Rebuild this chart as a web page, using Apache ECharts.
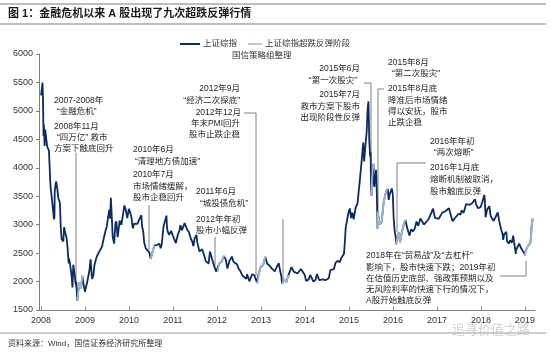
<!DOCTYPE html>
<html>
<head>
<meta charset="utf-8">
<script src="https://cdn.jsdelivr.net/npm/echarts@6/dist/echarts.min.js"></script>
<style>
  html, body { margin: 0; padding: 0; background: #fff; }
  #chart { width: 550px; height: 354px; }
</style>
</head>
<body>
<div id="chart"></div>
<script>
// 上证综指（约半月取点）
const dates = [
  '2008-01-02','2008-01-08','2008-01-14','2008-01-18','2008-01-22','2008-01-25','2008-01-31','2008-02-05','2008-02-15','2008-02-22','2008-02-29',
  '2008-03-07','2008-03-14','2008-03-20','2008-03-31','2008-04-09','2008-04-18','2008-04-22','2008-04-24','2008-04-30','2008-05-06','2008-05-16',
  '2008-05-23','2008-05-30','2008-06-06','2008-06-13','2008-06-20','2008-06-30','2008-07-04','2008-07-11','2008-07-18','2008-07-25','2008-07-31',
  '2008-08-08','2008-08-18','2008-08-22','2008-08-29','2008-09-05','2008-09-12','2008-09-18','2008-09-25','2008-10-09','2008-10-16','2008-10-20',
  '2008-10-28','2008-10-31','2008-11-07','2008-11-14','2008-11-21','2008-11-28','2008-12-09','2008-12-17','2008-12-24','2008-12-31',
  '2009-01-09','2009-01-16','2009-01-23','2009-02-06','2009-02-17','2009-02-27','2009-03-03','2009-03-13','2009-03-20','2009-03-31','2009-04-10',
  '2009-04-24','2009-05-08','2009-05-22','2009-06-05','2009-06-19','2009-06-30','2009-07-10','2009-07-22','2009-07-29','2009-08-04','2009-08-12',
  '2009-08-19','2009-08-31','2009-09-11','2009-09-18','2009-09-29','2009-10-16','2009-10-30','2009-11-13','2009-11-24','2009-12-04','2009-12-18','2009-12-31',
  '2010-01-11','2010-01-22','2010-01-29','2010-02-03','2010-02-12','2010-02-26','2010-03-12','2010-03-31','2010-04-14','2010-04-19','2010-04-30',
  '2010-05-07','2010-05-21','2010-05-31','2010-06-04','2010-06-18','2010-06-30','2010-07-02','2010-07-09','2010-07-23','2010-07-30','2010-08-13',
  '2010-08-20','2010-08-31','2010-09-10','2010-09-21','2010-09-30','2010-10-15','2010-10-29','2010-11-08','2010-11-12','2010-11-16','2010-11-30',
  '2010-12-10','2010-12-17','2010-12-31',
  '2011-01-07','2011-01-14','2011-01-25','2011-02-11','2011-02-25','2011-03-04','2011-03-16','2011-03-31','2011-04-08','2011-04-18','2011-04-29',
  '2011-05-13','2011-05-31','2011-06-10','2011-06-20','2011-06-30','2011-07-15','2011-07-22','2011-07-31','2011-08-09','2011-08-19','2011-08-31',
  '2011-09-15','2011-09-30','2011-10-24','2011-11-04','2011-11-15','2011-11-30','2011-12-13','2011-12-27',
  '2012-01-06','2012-01-20','2012-02-10','2012-02-27','2012-03-02','2012-03-14','2012-03-28','2012-04-13','2012-05-04','2012-05-18','2012-05-31',
  '2012-06-15','2012-06-29','2012-07-13','2012-07-31','2012-08-15','2012-08-31','2012-09-07','2012-09-26','2012-10-19','2012-11-05','2012-11-27',
  '2012-12-03','2012-12-14','2012-12-31',
  '2013-01-18','2013-01-31','2013-02-06','2013-02-22','2013-03-05','2013-03-15','2013-03-29','2013-04-12','2013-04-26','2013-05-10','2013-05-29',
  '2013-06-07','2013-06-20','2013-06-25','2013-07-12','2013-07-31','2013-08-14','2013-08-30','2013-09-12','2013-09-30','2013-10-15','2013-10-31',
  '2013-11-15','2013-11-29','2013-12-13','2013-12-31',
  '2014-01-10','2014-01-20','2014-01-31','2014-02-14','2014-02-28','2014-03-12','2014-03-31','2014-04-10','2014-04-30','2014-05-16','2014-05-30',
  '2014-06-20','2014-06-30','2014-07-18','2014-07-31','2014-08-15','2014-08-29','2014-09-12','2014-09-30','2014-10-17','2014-10-31','2014-11-21',
  '2014-11-28','2014-12-05','2014-12-19','2014-12-31',
  '2015-01-09','2015-01-19','2015-01-30','2015-02-09','2015-02-27','2015-03-13','2015-03-31','2015-04-15','2015-04-30','2015-05-07','2015-05-20',
  '2015-05-28','2015-06-05','2015-06-12','2015-06-19','2015-06-26','2015-06-30','2015-07-03','2015-07-08','2015-07-09','2015-07-17','2015-07-24',
  '2015-07-27','2015-07-31','2015-08-14','2015-08-18','2015-08-21','2015-08-26','2015-08-28','2015-09-02','2015-09-15','2015-09-30','2015-10-16',
  '2015-10-30','2015-11-06','2015-11-20','2015-11-27','2015-12-04','2015-12-23','2015-12-31',
  '2016-01-04','2016-01-07','2016-01-15','2016-01-26','2016-01-28','2016-02-05','2016-02-19','2016-02-29','2016-03-15','2016-03-31','2016-04-14',
  '2016-04-29','2016-05-18','2016-05-31','2016-06-17','2016-06-30','2016-07-15','2016-07-29','2016-08-16','2016-08-31','2016-09-14','2016-09-30',
  '2016-10-21','2016-10-31','2016-11-15','2016-11-29','2016-12-15','2016-12-30',
  '2017-01-16','2017-01-31','2017-02-15','2017-02-28','2017-03-15','2017-03-31','2017-04-11','2017-04-28','2017-05-11','2017-05-31','2017-06-15',
  '2017-06-30','2017-07-17','2017-07-24','2017-08-11','2017-08-31','2017-09-15','2017-09-29','2017-10-20','2017-11-13','2017-11-23','2017-12-08',
  '2017-12-18','2017-12-29',
  '2018-01-15','2018-01-29','2018-02-02','2018-02-09','2018-02-22','2018-03-12','2018-03-23','2018-04-02','2018-04-17','2018-05-02','2018-05-21',
  '2018-06-01','2018-06-19','2018-06-29','2018-07-05','2018-07-13','2018-07-31','2018-08-06','2018-08-20','2018-08-31','2018-09-14','2018-09-26',
  '2018-10-11','2018-10-18','2018-10-19','2018-10-31','2018-11-15','2018-11-20','2018-11-30','2018-12-10','2018-12-25','2018-12-28',
  '2019-01-03','2019-01-04','2019-01-18','2019-01-31','2019-02-15','2019-02-22','2019-02-25','2019-03-01','2019-03-07'
];
const closes = [
  5273,5393,5497,5180,4559,4761,4383,4672,4490,4370,4348,
  4300,3962,3668,3472,3500,3094,3147,3584,3693,3761,3626,
  3474,3433,3377,2957,2748,2736,2704,2957,2874,2862,2775,
  2605,2319,2405,2397,2202,2079,1895,2297,2074,1931,1994,
  1664,1728,1747,1988,1930,1871,2100,1985,1898,1820,
  1904,1955,1990,2181,2389,2082,2043,2128,2281,2373,2445,
  2475,2560,2611,2753,2881,2959,3104,3266,3105,3471,3112,
  2786,2667,3020,3060,2779,3070,2995,3187,3338,3275,3114,3277,
  3212,3128,2990,2937,3018,3051,3013,3109,3166,2980,2870,
  2688,2583,2592,2553,2514,2398,2373,2470,2572,2637,2606,
  2642,2638,2663,2585,2656,2971,2979,3159,2986,2894,2820,
  2798,2890,2808,
  2839,2791,2677,2828,2905,2993,2900,2928,3030,3057,2911,
  2871,2743,2705,2621,2762,2820,2688,2701,2526,2534,2567,
  2474,2359,2317,2528,2529,2333,2248,2175,
  2163,2319,2352,2447,2460,2391,2227,2359,2438,2344,2373,
  2306,2225,2185,2103,2110,2047,2128,2004,2128,2115,1991,
  1959,2150,2269,
  2284,2385,2434,2314,2326,2278,2236,2206,2177,2247,2324,
  2211,2084,1959,2039,1994,2100,2098,2255,2174,2193,2141,
  2136,2220,2196,2116,
  2013,1991,2033,2115,2056,1998,2033,2130,2026,2026,2039,
  2024,2048,2059,2201,2226,2217,2331,2364,2341,2420,2487,
  2683,2938,3108,3235,
  3285,3116,3210,3095,3310,3372,3748,4084,4442,4112,4446,
  4620,5023,5166,4478,4193,4277,3687,3507,3710,3957,4070,
  3725,3664,3965,3748,3507,2927,3232,3160,3005,3053,3391,
  3383,3590,3630,3436,3525,3636,3539,
  3297,3125,2900,2750,2655,2763,2860,2688,2864,3004,3082,
  2938,2807,2917,2885,2930,3054,2980,3110,3085,3002,3005,
  3091,3100,3206,3283,3118,3104,
  3103,3159,3212,3242,3241,3223,3289,3155,3061,3117,3132,
  3192,3176,3250,3208,3361,3353,3349,3378,3447,3352,3289,
  3267,3307,
  3410,3523,3462,3129,3268,3326,3152,3163,3066,3081,3214,
  3075,2907,2847,2733,2831,2876,2705,2668,2725,2681,2806,
  2583,2486,2550,2603,2668,2645,2588,2584,2504,2494,
  2464,2515,2596,2585,2682,2804,2961,2994,3106
];
// 超跌反弹阶段
const reboundPeriods = [
  ['2008-10-28', '2008-12-09'],
  ['2010-06-30', '2010-07-30'],
  ['2012-01-06', '2012-03-02'],
  ['2012-12-03', '2013-02-06'],
  ['2013-06-25', '2013-08-30'],
  ['2015-07-08', '2015-07-24'],
  ['2015-08-26', '2015-11-20'],
  ['2016-01-28', '2016-04-14'],
  ['2019-01-03', '2019-03-07']
];
const yearTicks = [2008, 2009, 2010, 2011, 2012, 2013, 2014, 2015, 2016, 2017, 2018, 2019];

// 注释文字 [x, y, 文字, 对齐]
const notes = [
  [54, 101, '2007-2008年'], [57, 112, '“金融危机”'],
  [54, 127, '2008年11月'], [57, 138, '“四万亿” 救市'], [54, 149, '方案下触底回升'],
  [133, 150, '2010年6月'], [135, 162, '“清理地方债加速”'],
  [133, 175, '2010年7月'], [133, 187, '市场情绪缓解，'], [133, 198, '股市企稳回升'],
  [196, 192, '2011年6月'], [200, 204, '“城投债危机”'],
  [196, 220, '2012年年初'], [196, 231, '股市小幅反弹'],
  [240, 89, '2012年9月', 'right'], [240, 101, '“经济二次探底”', 'right'],
  [241, 113, '2012年12月', 'right'], [240, 124, '年末PMI回升', 'right'], [240, 135, '股市止跌企稳', 'right'],
  [360, 69, '2015年6月', 'right'], [357, 81, '“第一次股灾”', 'right'],
  [360, 95, '2015年7月', 'right'], [360, 107, '救市方案下股市', 'right'], [360, 118, '出现阶段性反弹', 'right'],
  [388, 63, '2015年8月'], [392, 74, '“第二次股灾”'],
  [388, 89, '2015年8月底'], [388, 101, '降准后市场情绪'], [388, 112, '得以安抚，股市'], [388, 123, '止跌企稳'],
  [430, 142, '2016年年初'], [434, 153, '“两次熔断”'],
  [430, 168, '2016年1月底'], [430, 180, '熔断机制被取消，'], [430, 192, '股市触底反弹'],
  [366, 256, '2018年在“贸易战”及“去杠杆”'], [366, 268, '影响下，股市快速下跌；2019年初'],
  [366, 279, '在估值历史底部、强政策预期以及'], [366, 290, '无风险利率的快速下行的情况下，'],
  [366, 301, 'A股开始触底反弹']
];
// 引线
const leaders = [
  [[76, 153], [76, 287]],
  [[149, 205], [149, 250]],
  [[215, 237], [215, 266]],
  [[244, 113], [256, 113], [256, 276]],
  [[283, 219], [283, 279]],
  [[364, 83], [371, 83], [371, 190]],
  [[384, 89], [378, 89], [378, 222]],
  [[426, 163], [397, 163], [397, 232]],
  [[500, 276], [526, 276], [526, 261]]
];

const FONT = '"Liberation Sans", "Noto Sans CJK SC", sans-serif';

function toYear(d) {
  const [y, m, day] = d.split('-').map(Number);
  const start = Date.UTC(y, 0, 1);
  return y + (Date.UTC(y, m - 1, day) - start) / (365 * 86400000);
}
function inRebound(d) {
  return reboundPeriods.some(p => d >= p[0] && d <= p[1]);
}

const mainData = dates.map((d, i) => [toYear(d), closes[i]]);
const reboundData = dates.map((d, i) => [toYear(d), inRebound(d) ? closes[i] : null]);

const graphics = [
  { type: 'line', shape: { x1: 0, y1: 4, x2: 546, y2: 4 }, style: { stroke: '#bdbdbd', lineWidth: 2 } },
  { type: 'line', shape: { x1: 0, y1: 24, x2: 546, y2: 24 }, style: { stroke: '#bdbdbd', lineWidth: 2 } },
  { type: 'text', x: 8, y: 14, style: { text: '图 1：金融危机以来 A 股出现了九次超跌反弹行情', fill: '#1a1a1a',
      font: 'bold 11px ' + FONT, textVerticalAlign: 'middle' } },
  { type: 'line', shape: { x1: 180, y1: 44, x2: 200, y2: 44 }, style: { stroke: '#0f2b5b', lineWidth: 2 } },
  { type: 'text', x: 203, y: 44, style: { text: '上证综指', fill: '#333', font: '8.5px ' + FONT, textVerticalAlign: 'middle' } },
  { type: 'line', shape: { x1: 248, y1: 44, x2: 262, y2: 44 }, style: { stroke: '#a5b6d0', lineWidth: 1.5 } },
  { type: 'text', x: 265, y: 44, style: { text: '上证综指超跌反弹阶段', fill: '#333', font: '8.5px ' + FONT, textVerticalAlign: 'middle' } },
  { type: 'text', x: 232, y: 56, style: { text: '国信策略组整理', fill: '#333', font: '8.5px ' + FONT, textVerticalAlign: 'middle' } },
  { type: 'line', shape: { x1: 0, y1: 333, x2: 546, y2: 333 }, style: { stroke: '#bdbdbd', lineWidth: 1.5 } },
  { type: 'text', x: 8, y: 344, style: { text: '资料来源：Wind，国信证券经济研究所整理', fill: '#333', font: '8px ' + FONT, textVerticalAlign: 'middle' } },
  { type: 'text', x: 452, y: 329, z: 0, style: { text: '追寻价值之路', fill: 'rgba(190,190,190,0.7)', font: '13px "Noto Sans CJK SC"', textVerticalAlign: 'middle' } }
];
notes.forEach(n => {
  graphics.push({ type: 'text', x: n[0], y: n[1], style: { text: n[2], fill: '#1f1f1f', font: '8.5px ' + FONT,
    textAlign: n[3] || 'left', textVerticalAlign: 'middle' } });
});
leaders.forEach(pts => {
  graphics.push({ type: 'polyline', shape: { points: pts }, style: { stroke: '#808080', lineWidth: 1, fill: null } });
});

const chart = echarts.init(document.getElementById('chart'));
chart.setOption({
  backgroundColor: '#fff',
  animation: false,
  grid: { left: 39, right: 15, top: 54, bottom: 44 },
  xAxis: {
    type: 'value',
    min: 2007.955,
    max: 2019.23,
    axisLine: { lineStyle: { color: '#808080' } },
    axisTick: { inside: true, length: 3, customValues: yearTicks, lineStyle: { color: '#808080' } },
    axisLabel: { customValues: yearTicks, color: '#333', fontSize: 9, fontFamily: FONT, margin: 6,
      formatter: v => String(Math.round(v)) },
    splitLine: { show: false }
  },
  yAxis: {
    type: 'value',
    min: 1500,
    max: 6000,
    interval: 500,
    axisLine: { show: true, lineStyle: { color: '#808080' } },
    axisTick: { show: true, length: 3, lineStyle: { color: '#808080' } },
    axisLabel: { color: '#333', fontSize: 9, fontFamily: FONT, margin: 6, formatter: v => String(v) },
    splitLine: { show: false }
  },
  series: [
    { name: '上证综指', type: 'line', data: mainData, showSymbol: false, symbol: 'none',
      lineStyle: { color: '#0f2b5b', width: 1.8 }, z: 2 },
    { name: '上证综指超跌反弹阶段', type: 'line', data: reboundData, showSymbol: false, symbol: 'none',
      connectNulls: false, lineStyle: { color: '#a5b6d0', width: 1.8 }, z: 3 }
  ],
  graphic: graphics
});
</script>
</body>
</html>
